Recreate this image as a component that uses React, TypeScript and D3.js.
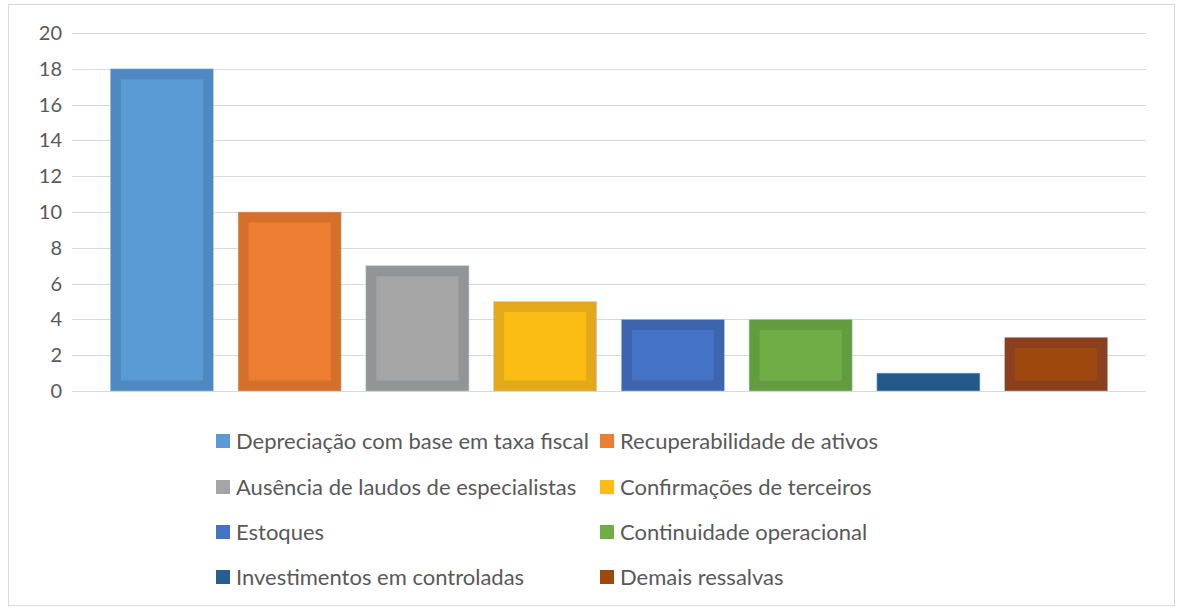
import React from "react";
import * as d3 from "d3";

const categories = [
  "Depreciação com base em taxa fiscal",
  "Recuperabilidade de ativos",
  "Ausência de laudos de especialistas",
  "Confirmações de terceiros",
  "Estoques",
  "Continuidade operacional",
  "Investimentos em controladas",
  "Demais ressalvas",
];
const values = [18, 10, 7, 5, 4, 4, 1, 3];
const innerColors = ["#5b9bd5", "#ed7d31", "#a5a5a5", "#fbbd13", "#4472c4", "#70ad47", "#255e91", "#9e480e"];
const outerColors = ["#4f89c1", "#d5702b", "#939496", "#e3a91a", "#3d64ae", "#639c3f", "#235a8a", "#8c401e"];
const yTicks = [0, 2, 4, 6, 8, 10, 12, 14, 16, 18, 20];

export default function App() {
  const W = 1179, H = 609;
  const x = d3.scaleBand<string>().domain(categories).range([72, 1146]).paddingInner(0.193).paddingOuter(0.3);
  const y = d3.scaleLinear().domain([0, 20]).range([391, 33]);
  const font = "Lato, 'Open Sans', sans-serif";
  const inset = 10.5;
  const legendCols = [216, 600];
  const legendRows = [441, 487, 532, 577];
  return (
    <svg width={W} height={H} style={{ position: "absolute", left: 0, top: 0 }}>
      <rect x={0} y={0} width={W} height={H} fill="#fff" />
      <rect x={8.5} y={4.5} width={1166} height={601} fill="#fff" stroke="#d9d9d9" strokeWidth={1} />
      {yTicks.map((t) => (
        <g key={t}>
          <line x1={72} x2={1146} y1={Math.round(y(t)) + 0.5} y2={Math.round(y(t)) + 0.5} stroke="#d9d9d9" strokeWidth={1.2} />
          <text x={62} y={y(t)} dy="0.35em" textAnchor="end" fontFamily={font} fontSize={20} fill="#595959">{t}</text>
        </g>
      ))}
      {categories.map((c, i) => {
        const bx = x(c)!;
        const bw = x.bandwidth();
        const top = y(values[i]);
        const bh = y(0) - top;
        return (
          <g key={c}>
            <rect x={bx} y={top} width={bw} height={bh} fill={outerColors[i]} stroke="#b8cce4" strokeWidth={0.8} strokeOpacity={0.6} />
            {bh > 2 * inset + 4 && (
              <rect x={bx + inset} y={top + inset} width={bw - 2 * inset} height={bh - 2 * inset} fill={innerColors[i]} />
            )}
          </g>
        );
      })}
      {categories.map((c, i) => {
        const col = i % 2;
        const row = Math.floor(i / 2);
        const lx = legendCols[col];
        const ly = legendRows[row];
        return (
          <g key={"l" + c}>
            <rect x={lx} y={ly - 7} width={14} height={14} fill={innerColors[i]} />
            <text x={lx + 20} y={ly} dy="0.35em" fontFamily={font} fontSize={22} fill="#595959">{c}</text>
          </g>
        );
      })}
    </svg>
  );
}
